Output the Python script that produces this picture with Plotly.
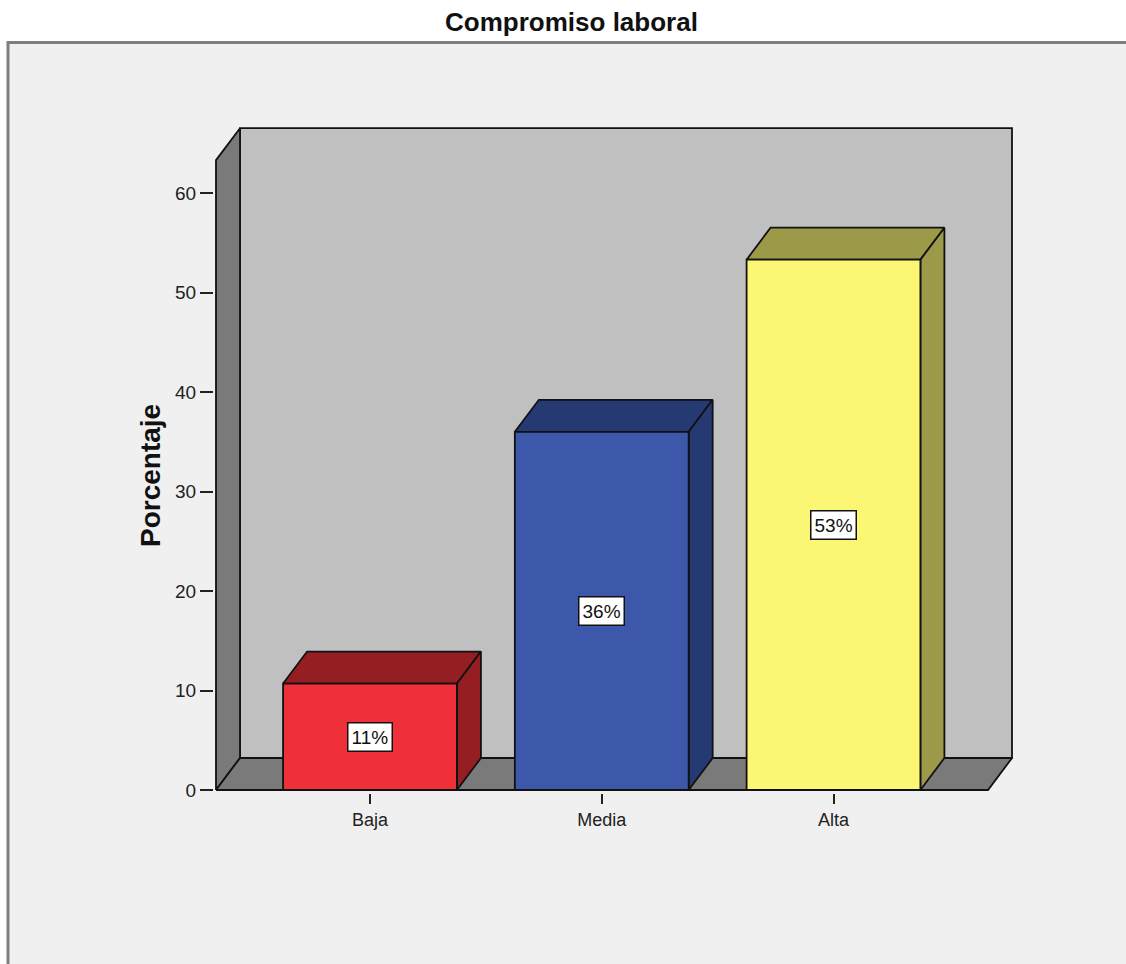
import plotly.graph_objects as go

# ---------------- data ----------------
categories = ["Baja", "Media", "Alta"]
percent = [10.7, 36.0, 53.3]
bar_labels = [f"{round(v)}%" for v in percent]
y_ticks = [0, 10, 20, 30, 40, 50, 60]

# ---------------- style ----------------
front_colors = ["#EF3038", "#3D58AB", "#FBF674"]
shade_colors = ["#951E22", "#253A72", "#9C9A48"]
wall_back = "#C0C0C0"
wall_dark = "#7A7A7A"
panel_bg = "#F0F0F0"
FONT = "Liberation Sans, Arial, sans-serif"

W, H = 1126, 964
ux = 231.75          # px per category unit
uy = 9.95            # px per percent unit
cat0_px = 370        # pixel of first category centre
zero_px = 790        # pixel of y = 0
plot_l, plot_r, plot_t, plot_b = 214, 1030, 110, 793

x_range = [(plot_l - cat0_px) / ux, (plot_r - cat0_px) / ux]
y_range = [-(plot_b - zero_px) / uy, (zero_px - plot_t) / uy]

x_lo = (216 - cat0_px) / ux
x_hi = (988 - cat0_px) / ux
dx = 24 / ux
dy = 32 / uy
wall_top = 63.3
hw = 0.375

fig = go.Figure()


def poly(xs, ys, fill, lw=1.8):
    fig.add_trace(go.Scatter(
        x=xs + [xs[0]], y=ys + [ys[0]], mode="lines", fill="toself",
        fillcolor=fill, line=dict(color="#111111", width=lw),
        hoverinfo="skip", showlegend=False))


# back wall
poly([x_lo + dx, x_hi + dx, x_hi + dx, x_lo + dx],
     [dy, dy, wall_top + dy, wall_top + dy], wall_back)
# left wall
poly([x_lo, x_lo, x_lo + dx, x_lo + dx],
     [0, wall_top, wall_top + dy, dy], wall_dark)
# floor
poly([x_lo, x_hi, x_hi + dx, x_lo + dx],
     [0, 0, dy, dy], wall_dark)

# bars
for i, v in enumerate(percent):
    poly([i - hw, i + hw, i + hw + dx, i - hw + dx],
         [v, v, v + dy, v + dy], shade_colors[i])
    poly([i + hw, i + hw + dx, i + hw + dx, i + hw],
         [0, dy, v + dy, v], shade_colors[i])
    poly([i - hw, i + hw, i + hw, i - hw],
         [0, 0, v, v], front_colors[i])

annotations = []
for i, v in enumerate(percent):
    annotations.append(dict(
        x=i, y=v / 2, xref="x", yref="y", text=bar_labels[i],
        showarrow=False, bgcolor="white", bordercolor="#111111",
        borderwidth=1.5, borderpad=3,
        font=dict(family=FONT, size=19, color="#111111")))

pw = plot_r - plot_l
ph = plot_b - plot_t
annotations.append(dict(
    x=(150 - plot_l) / pw, y=(plot_b - 476) / ph, xref="paper", yref="paper",
    text="<b>Porcentaje</b>", textangle=-90, showarrow=False,
    xanchor="center", yanchor="middle",
    font=dict(family=FONT, size=28, color="#111111")))

shapes = [dict(
    type="rect", xref="paper", yref="paper", layer="below",
    x0=(8 - plot_l) / pw, x1=(W + 20 - plot_l) / pw,
    y0=(plot_b - (H + 20)) / ph, y1=(plot_b - 42.5) / ph,
    fillcolor=panel_bg, line=dict(color="#7F7F7F", width=3))]

fig.update_layout(
    width=W, height=H,
    margin=dict(l=plot_l, r=W - plot_r, t=plot_t, b=H - plot_b, pad=0),
    paper_bgcolor="white", plot_bgcolor="rgba(0,0,0,0)",
    title=dict(text="<b>Compromiso laboral</b>", xref="container", yref="container",
               x=571.5 / W, y=1 - 22 / H, xanchor="center", yanchor="middle",
               font=dict(family=FONT, size=26, color="#111111")),
    xaxis=dict(range=x_range, tickvals=list(range(len(categories))), ticktext=categories,
               ticks="outside", ticklen=10, tickwidth=1.6, tickcolor="#222222",
               showgrid=False, zeroline=False, showline=False, fixedrange=True,
               tickfont=dict(family=FONT, size=18, color="#222222")),
    yaxis=dict(range=y_range, tickvals=y_ticks, ticks="outside", ticklen=13,
               tickwidth=1.6, tickcolor="#222222",
               showgrid=False, zeroline=False, showline=False, fixedrange=True,
               tickfont=dict(family=FONT, size=19, color="#222222")),
    annotations=annotations, shapes=shapes, showlegend=False)

fig.write_html("out.html")
